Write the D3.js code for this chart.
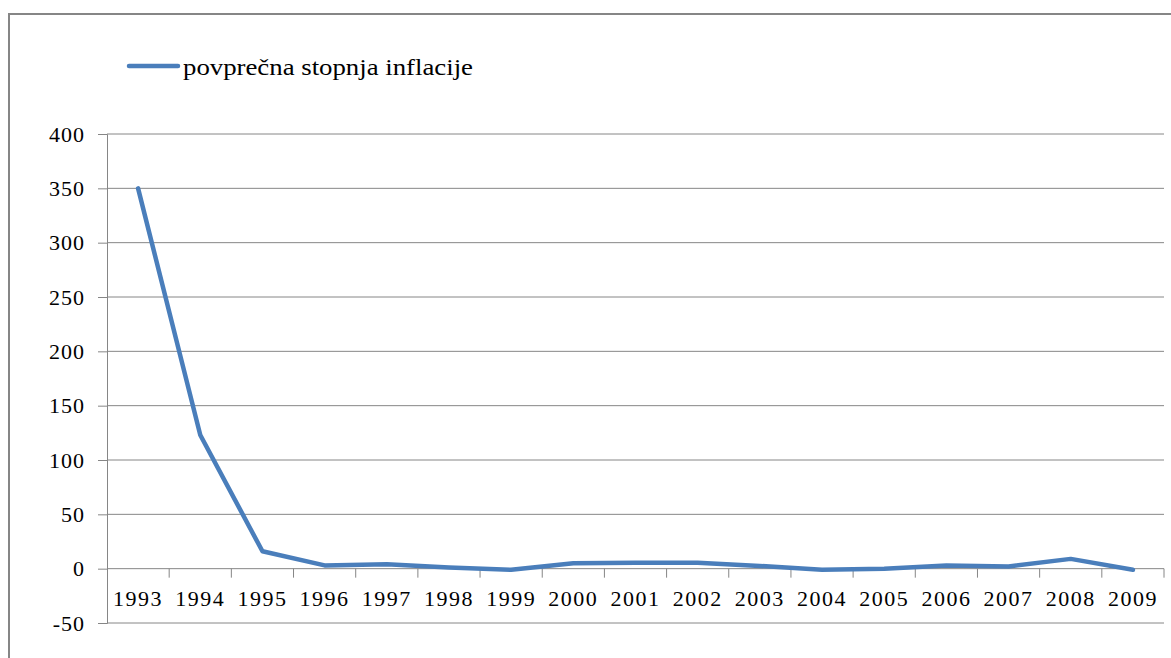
<!DOCTYPE html>
<html>
<head>
<meta charset="utf-8">
<script src="https://cdn.jsdelivr.net/npm/d3@7"></script>
<style>
  body { margin: 0; background: #fff; }
  text { font-family: "Liberation Serif", "Times New Roman", serif; fill: #000; }
</style>
</head>
<body>
<div id="chart"></div>
<script>
// data
const years = ["1993","1994","1995","1996","1997","1998","1999","2000","2001","2002","2003","2004","2005","2006","2007","2008","2009"];
const inflation = [350, 123, 16, 3, 4, 1, -1, 5, 5.5, 5.5, 2.5, -1, 0, 3, 2, 9, -1];
const yTicks = [-50, 0, 50, 100, 150, 200, 250, 300, 350, 400];
const seriesName = "povprečna stopnja inflacije";

const width = 1171, height = 658;
const margin = {left: 107, right: 7, top: 134, bottom: 35};

const svg = d3.select("#chart").append("svg")
  .attr("width", width)
  .attr("height", height);

// outer chart frame (runs off right and bottom)
svg.append("rect")
  .attr("x", 9).attr("y", 14)
  .attr("width", 1200).attr("height", 700)
  .attr("fill", "none")
  .attr("stroke", "#868686")
  .attr("stroke-width", 2);

const x = d3.scaleBand()
  .domain(years)
  .range([margin.left, width - margin.right]);

const y = d3.scaleLinear()
  .domain([-50, 400])
  .range([height - margin.bottom, margin.top]);

// left ticks + labels
const yAxis = svg.append("g")
  .attr("transform", "translate(" + margin.left + ",0)")
  .call(d3.axisLeft(y).tickValues(yTicks).tickSize(9).tickPadding(13).tickFormat(d => String(d)));
yAxis.select(".domain").attr("stroke", "#868686");
yAxis.selectAll(".tick line").attr("stroke", "#868686");
yAxis.selectAll(".tick text")
  .attr("font-size", "22px")
  .attr("letter-spacing", "1px")
  .attr("fill", "#000")
  .style("font-family", "Liberation Serif");

// horizontal gridlines
svg.append("g").selectAll("line")
  .data(yTicks)
  .enter().append("line")
  .attr("x1", margin.left)
  .attr("x2", width - margin.right)
  .attr("y1", d => y(d))
  .attr("y2", d => y(d))
  .attr("stroke", "#868686")
  .attr("stroke-width", 1);

// category axis at zero
const bounds = years.map(d => x(d)).concat([x.range()[1]]);
svg.append("g").selectAll("line")
  .data(bounds.slice(1))
  .enter().append("line")
  .attr("x1", d => d).attr("x2", d => d)
  .attr("y1", y(0)).attr("y2", y(0) + 9)
  .attr("stroke", "#868686");

svg.append("g").selectAll("text")
  .data(years)
  .enter().append("text")
  .attr("x", d => x(d) + x.bandwidth() / 2)
  .attr("y", y(0) + 37)
  .attr("text-anchor", "middle")
  .attr("font-size", "22px")
  .attr("letter-spacing", "1.5px")
  .text(d => d);

// the series
const line = d3.line()
  .x((d, i) => x(years[i]) + x.bandwidth() / 2)
  .y(d => y(d));

svg.append("path")
  .datum(inflation)
  .attr("d", line)
  .attr("fill", "none")
  .attr("stroke", "#4a7ebb")
  .attr("stroke-width", 4.5)
  .attr("stroke-linejoin", "round")
  .attr("stroke-linecap", "round");

// legend
svg.append("line")
  .attr("x1", 129).attr("x2", 178)
  .attr("y1", 66).attr("y2", 66)
  .attr("stroke", "#4a7ebb")
  .attr("stroke-width", 4.5)
  .attr("stroke-linecap", "round");

svg.append("text")
  .attr("x", 183)
  .attr("y", 75)
  .attr("font-size", "24px")
  .attr("textLength", 290)
  .attr("lengthAdjust", "spacingAndGlyphs")
  .text(seriesName);
</script>
</body>
</html>
